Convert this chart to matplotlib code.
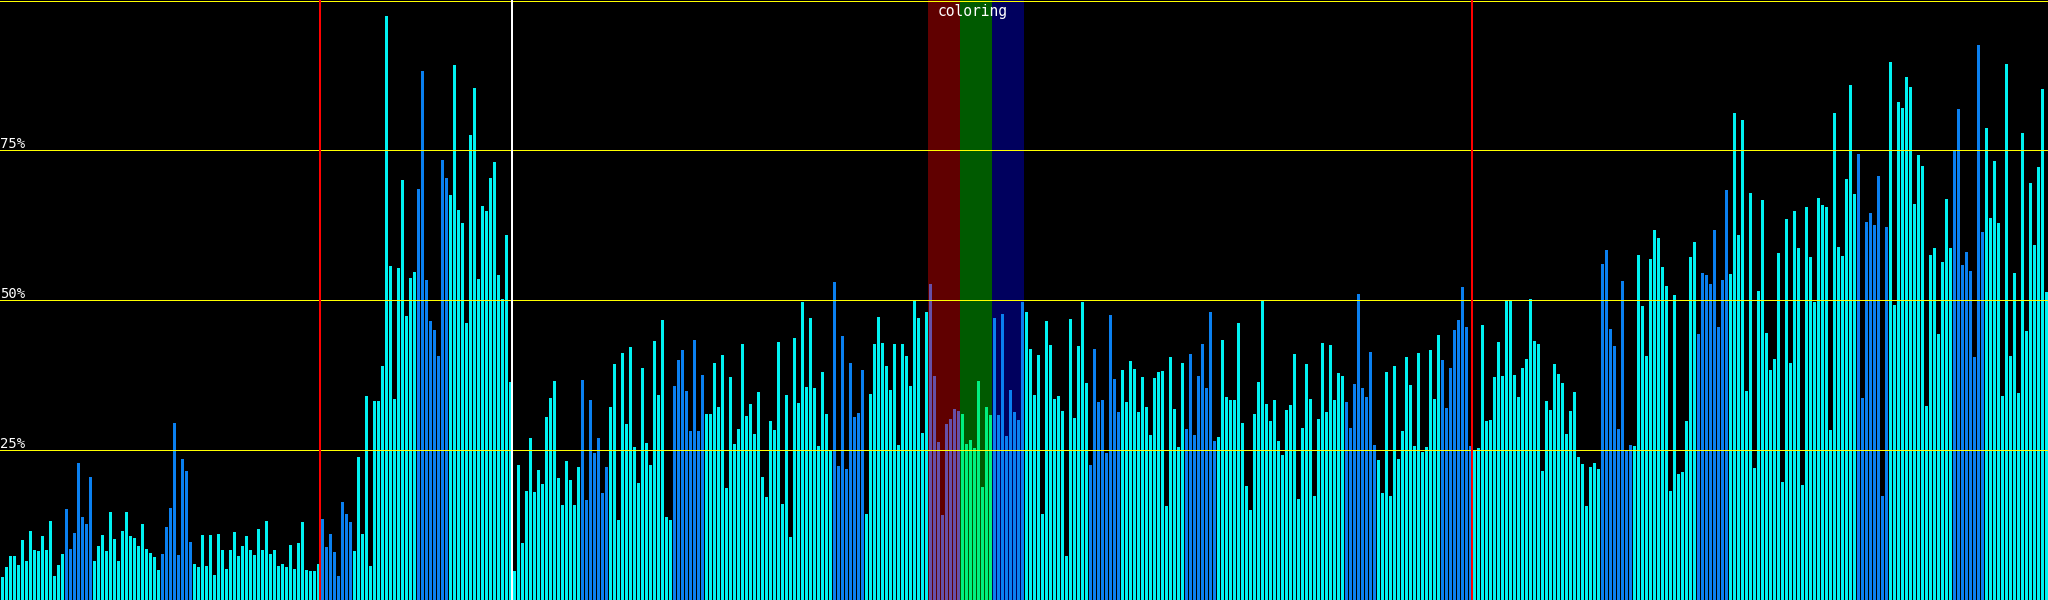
import matplotlib
matplotlib.use('Agg')
from matplotlib import pyplot as plt

# bar heights in percent, one per array slot (512 slots)
values = [
    3.8, 5.5, 7.3, 7.3, 5.9, 10.0, 6.5, 11.5, 8.4, 8.2,
    10.7, 8.4, 13.1, 4.0, 5.8, 7.7, 15.2, 8.5, 11.2, 22.8,
    13.8, 12.7, 20.5, 6.5, 9.0, 10.8, 8.2, 14.7, 10.1, 6.5,
    11.5, 14.7, 10.7, 10.3, 9.0, 12.7, 8.5, 7.8, 7.1, 5.0,
    7.7, 12.2, 15.3, 29.5, 7.5, 23.5, 21.5, 9.7, 6.0, 5.5,
    10.8, 5.7, 10.8, 4.1, 11.0, 8.4, 5.2, 8.4, 11.4, 7.3,
    9.0, 10.7, 8.4, 7.5, 11.9, 8.4, 13.1, 7.7, 8.4, 5.7,
    6.0, 5.5, 9.2, 5.2, 9.5, 13.0, 5.0, 4.8, 4.8, 6.0,
    13.5, 8.9, 11.0, 8.0, 4.0, 16.3, 14.3, 13.0, 8.2, 23.9,
    11.0, 34.0, 5.7, 33.2, 33.2, 39.0, 97.3, 55.7, 33.5, 55.4,
    70.0, 47.3, 53.6, 54.7, 68.5, 88.1, 53.3, 46.5, 45.0, 40.7,
    73.3, 70.3, 67.5, 89.2, 65.0, 62.8, 46.2, 77.5, 85.3, 53.5,
    65.7, 64.9, 70.3, 73.0, 54.1, 50.2, 60.8, 36.4, 4.8, 22.5,
    9.5, 18.2, 27.0, 18.0, 21.7, 19.3, 30.5, 33.7, 36.5, 20.3,
    15.8, 23.2, 20.0, 15.8, 22.2, 36.7, 16.6, 33.4, 24.5, 27.0,
    17.9, 22.2, 32.1, 39.3, 13.3, 41.1, 29.3, 42.2, 25.5, 19.5,
    38.6, 26.1, 22.5, 43.2, 34.2, 46.7, 13.8, 13.3, 35.7, 40.0,
    41.6, 34.8, 28.2, 43.3, 28.2, 37.5, 31.0, 31.0, 39.5, 32.1,
    40.8, 18.7, 37.2, 26.0, 28.5, 42.7, 30.7, 32.7, 27.7, 34.7,
    20.5, 17.2, 29.8, 28.3, 43.0, 16.0, 34.2, 10.5, 43.7, 32.8,
    49.7, 35.5, 47.0, 35.3, 25.6, 38.0, 31.0, 24.9, 53.0, 22.3,
    44.0, 21.8, 39.5, 30.5, 31.2, 38.3, 14.3, 34.3, 42.7, 47.2,
    42.9, 39.0, 35.0, 42.7, 25.8, 42.7, 40.7, 35.7, 49.8, 47.0,
    27.8, 48.0, 52.7, 37.3, 26.3, 14.2, 29.3, 30.2, 31.8, 31.5,
    31.0, 26.0, 26.7, 25.3, 36.5, 18.8, 32.1, 30.8, 47.0, 30.8,
    47.6, 27.4, 35.0, 31.3, 30.0, 49.7, 48.0, 41.8, 34.2, 40.8,
    14.3, 46.5, 42.5, 33.5, 34.0, 31.5, 7.3, 46.8, 30.4, 42.3,
    49.7, 36.2, 22.5, 41.8, 33.0, 33.4, 24.5, 47.5, 36.9, 31.3,
    38.3, 33.0, 39.9, 38.5, 31.3, 37.2, 32.1, 27.5, 37.0, 38.0,
    38.1, 15.7, 40.5, 31.8, 25.5, 39.5, 28.5, 41.0, 27.5, 37.3,
    42.7, 35.3, 48.0, 26.5, 27.2, 43.3, 33.9, 33.4, 33.4, 46.2,
    29.5, 19.0, 15.0, 31.0, 36.4, 49.8, 32.7, 29.8, 33.4, 26.5,
    24.2, 31.7, 32.5, 41.0, 16.8, 28.6, 39.3, 33.5, 17.3, 30.2,
    42.9, 31.3, 42.5, 33.4, 37.8, 37.3, 33.0, 28.6, 36.0, 51.0,
    35.3, 33.9, 41.3, 25.8, 23.3, 17.9, 38.0, 17.3, 39.0, 23.5,
    28.2, 40.5, 35.8, 25.6, 41.1, 24.7, 25.5, 41.6, 33.5, 44.2,
    40.0, 32.0, 38.6, 45.0, 46.7, 52.2, 45.5, 25.6, 24.8, 25.3,
    45.9, 29.8, 30.0, 37.2, 43.0, 37.3, 49.8, 49.8, 37.5, 33.9,
    38.6, 40.2, 50.2, 43.2, 42.7, 21.5, 33.2, 31.7, 39.3, 37.7,
    36.2, 27.7, 31.5, 34.7, 23.9, 22.6, 15.7, 22.2, 22.8, 21.8,
    56.0, 58.4, 45.2, 42.3, 28.5, 53.2, 25.0, 25.8, 25.6, 57.5,
    49.0, 40.7, 56.8, 61.7, 60.3, 55.5, 52.4, 18.2, 50.8, 21.0,
    21.4, 29.8, 57.1, 59.7, 44.3, 54.5, 54.1, 52.7, 61.7, 45.5,
    53.3, 68.3, 54.3, 81.2, 60.8, 80.0, 34.8, 67.9, 22.0, 51.5,
    66.6, 44.5, 38.3, 40.2, 57.8, 19.6, 63.5, 39.5, 64.9, 58.7,
    19.2, 65.5, 57.1, 49.7, 67.0, 65.8, 65.5, 28.3, 81.2, 58.9,
    57.3, 70.2, 85.8, 67.7, 74.4, 33.7, 63.0, 64.5, 62.5, 70.7,
    17.3, 62.2, 89.7, 49.2, 83.0, 82.0, 87.2, 85.5, 66.0, 74.2,
    72.3, 32.3, 57.5, 58.7, 44.3, 56.3, 66.8, 58.7, 74.8, 81.8,
    55.8, 58.0, 54.8, 40.5, 92.5, 61.4, 78.6, 63.6, 73.2, 62.8,
    34.0, 89.3, 40.7, 54.5, 34.5, 77.8, 44.8, 69.5, 59.2, 72.2,
    85.1, 51.3,
]

# index ranges (inclusive) drawn in the darker blue
blue_runs = [(16, 22), (40, 47), (80, 87), (104, 111), (145, 151), (168, 175),
             (208, 215), (248, 255), (272, 279), (296, 303), (336, 343),
             (360, 367), (400, 407), (424, 431), (464, 471), (488, 495)]
purple_run = (232, 239)
green_run = (240, 247)

# highlighted columns behind the bars: (start, end, colour)
bands = [(232, 240, '#600000'), (240, 248, '#005a00'), (248, 256, '#00005e')]
band_label = 'coloring'

red_marks = [80, 368]
white_marks = [128]
gridlines = [25, 50, 75]

CYAN = '#00f2f2'
BLUE = '#0a80f0'
PURPLE = '#6650a8'
GREEN = '#00f080'

colors = [CYAN] * len(values)
for a, b in blue_runs:
    for i in range(a, b + 1):
        colors[i] = BLUE
for i in range(purple_run[0], purple_run[1] + 1):
    colors[i] = PURPLE
for i in range(green_run[0], green_run[1] + 1):
    colors[i] = GREEN

DPI = 100
fig = plt.figure(figsize=(20.48, 6.0), dpi=DPI, facecolor='black')
ax = fig.add_axes([0, 0, 1, 1])
ax.set_facecolor('black')
ax.set_xlim(0, len(values))
ax.set_ylim(0, 100)
ax.axis('off')

px = 72.0 / DPI  # one pixel in points

for x0, x1, c in bands:
    ax.axvspan(x0, x1, color=c, lw=0, zorder=0, antialiased=False)

xs = [i + 0.25 for i in range(len(values))]
ax.bar(xs, values, width=0.75, align='edge', color=colors, lw=0, zorder=2,
       antialiased=False)

for y in gridlines:
    ax.axhline(y, color='#ffff00', lw=px, zorder=3, antialiased=False)
    ax.text(0, y + 0.25, '%d%%' % y, color='white', fontsize=10,
            family='DejaVu Sans Mono', ha='left', va='baseline', zorder=4)
ax.axhline(100 - 0.5 / 6, color='#ffff00', lw=px, zorder=3, antialiased=False)

for x in red_marks:
    ax.axvline(x - 0.1, color='#ff0000', lw=2 * px, zorder=3, antialiased=False)
for x in white_marks:
    ax.axvline(x, color='white', lw=2 * px, zorder=3, antialiased=False)

ax.text(bands[0][0] + 2.3, 100 - 0.6, band_label, color='white', fontsize=10.5,
        family='DejaVu Sans Mono', ha='left', va='top', zorder=4)

fig.savefig('out.png', dpi=DPI, facecolor='black')
